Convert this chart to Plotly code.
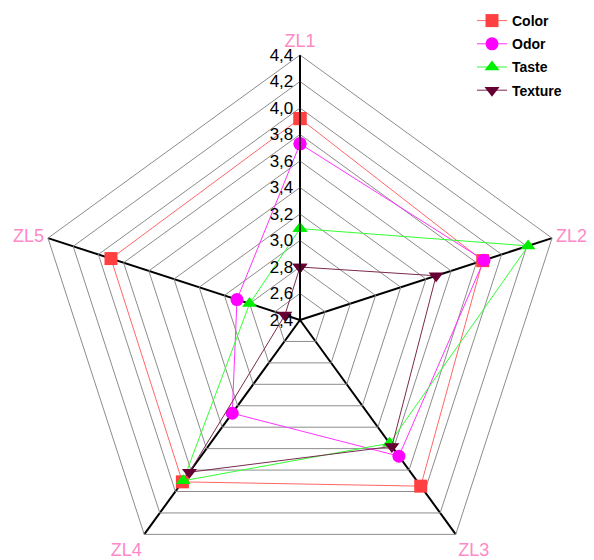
import plotly.graph_objects as go

# Sensory attributes (angular axis) and scores per quality dimension
attributes = ["ZL1", "ZL2", "ZL3", "ZL4", "ZL5"]
color_scores = [3.92, 3.85, 3.95, 3.91, 3.90]
odor_scores = [3.73, 3.86, 3.67, 3.27, 2.90]
taste_scores = [3.09, 4.21, 3.55, 3.90, 2.80]
texture_scores = [2.80, 3.48, 3.58, 3.82, 2.52]

radial_ticks = [2.4, 2.6, 2.8, 3.0, 3.2, 3.4, 3.6, 3.8, 4.0, 4.2, 4.4]

series = [
    ("Color", color_scores, "#ff4040", "#ff6666", "square"),
    ("Odor", odor_scores, "#ff00ff", "#ff33ff", "circle"),
    ("Taste", taste_scores, "#00ee00", "#33ff33", "triangle-up"),
    ("Texture", texture_scores, "#660033", "#7a2a4d", "triangle-down"),
]

fig = go.Figure()
for name, vals, mcol, lcol, sym in series:
    fig.add_trace(go.Scatterpolar(
        r=vals + vals[:1],
        theta=attributes + attributes[:1],
        name=name,
        legendgroup=name,
        mode="lines+markers",
        line=dict(color=lcol, width=1),
        marker=dict(color=mcol, symbol=sym, size=13),
    ))

W, H = 594, 620
fig.update_layout(
    width=W,
    height=H,
    separators=",.",
    paper_bgcolor="white",
    plot_bgcolor="white",
    margin=dict(l=35, r=29, t=55, b=35, autoexpand=False),
    font=dict(family="Arial, Liberation Sans, sans-serif"),
    showlegend=True,
    legend=dict(
        xref="container", yref="container",
        x=472 / W, y=1 - 5 / H,
        xanchor="left", yanchor="top",
        font=dict(size=14, color="black", family="Arial, Liberation Sans", weight="bold"),
        bgcolor="rgba(0,0,0,0)",
        traceorder="grouped",
        tracegroupgap=2,
    ),
    polar=dict(
        bgcolor="white",
        gridshape="linear",
        domain=dict(x=[0, 1], y=[0, 1]),
        radialaxis=dict(
            range=[2.4, 4.4],
            tickvals=radial_ticks,
            tickformat=".1f",
            angle=90,
            tickangle=90,
            side="counterclockwise",
            showline=True,
            linecolor="black",
            linewidth=1.5,
            gridcolor="#8c8c8c",
            gridwidth=1,
            ticks="",
            tickfont=dict(size=17, color="black", family="Arial, Liberation Sans"),
        ),
        angularaxis=dict(
            rotation=90,
            direction="clockwise",
            categoryorder="array",
            categoryarray=attributes,
            gridcolor="black",
            gridwidth=1.5,
            showline=True,
            linecolor="#8c8c8c",
            linewidth=1,
            ticks="",
            tickfont=dict(size=18, color="#ff88c8", family="Arial, Liberation Sans"),
        ),
    ),
)

fig.write_html(
    "out.html",
    post_script="document.documentElement.style.overflow='hidden';document.body.style.overflow='hidden';document.body.style.margin='0';",
)
